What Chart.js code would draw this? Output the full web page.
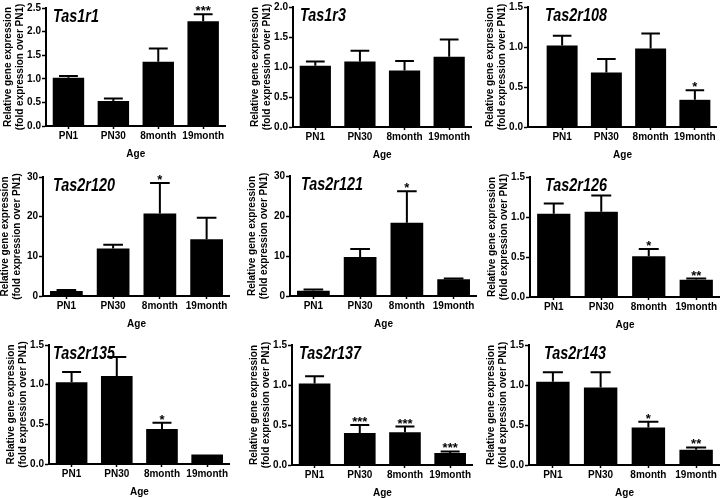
<!DOCTYPE html>
<html>
<head>
<meta charset="utf-8">
<script src="https://cdn.jsdelivr.net/npm/chart.js@4"></script>
<style>
body{margin:0;background:#fff;width:722px;height:498px;position:relative;overflow:hidden}
.p{position:absolute}
</style>
</head>
<body>
<script>
const ages=['PN1','PN30','8month','19month']
const genes=['Tas1r1','Tas1r3','Tas2r108','Tas2r120','Tas2r121','Tas2r126','Tas2r135','Tas2r137','Tas2r143']

// mean fold expression per gene, in the order of ages
const means=[
[1.02,0.53,1.36,2.22],
[1.02,1.09,0.94,1.17],
[1.02,0.68,0.98,0.34],
[1.26,12.0,20.8,14.3],
[1.3,9.75,18.3,4.2],
[1.04,1.065,0.51,0.215],
[1.03,1.11,0.44,0.12],
[1.02,0.40,0.41,0.15],
[1.04,0.97,0.47,0.19]
]
// upper error (SEM)
const errs=[
[0.04,0.05,0.28,0.15],
[0.07,0.18,0.16,0.29],
[0.12,0.17,0.19,0.12],
[0.25,0.9,7.7,5.4],
[0.3,2.0,7.9,0.2],
[0.13,0.205,0.09,0.015],
[0.13,0.24,0.08,0],
[0.09,0.10,0.07,0.02],
[0.12,0.19,0.07,0.03]
]
const stars=[
['','','','***'],
['','','',''],
['','','','*'],
['','','*',''],
['','','*',''],
['','','*','**'],
['','','*',''],
['','***','***','***'],
['','','*','**']
]
const yMax=[2.5,2,1.5,30,30,1.5,1.5,1.5,1.5]
const yStep=[0.5,0.5,0.5,10,10,0.5,0.5,0.5,0.5]

// plot area of each panel on the page: left, top, right, bottom, title dx, gap before first bar slot
const boxes=[
[46,8,226,126,7,0],[293,7,472,127,7,0],[528,7,717,127,17,12],
[43,177,230,296,10,0],[290,176,477,296,11,0],[530,177,720,297,15,0],
[49,345,230,464,4,0],[292,345,473,465,7,0],[529,345,720,465,15,0]
]

Chart.defaults.font.family='"Liberation Sans", Arial, sans-serif'
Chart.defaults.color='#000'

const errPlugin={
id:'err',
afterLayout(chart,args,opts){
// leave a small gap between the y axis and the first bar slot
const s=chart.scales.x
if(opts.gap){
s._startPixel+=opts.gap
s._length-=opts.gap
}
},
afterDatasetsDraw(chart,args,opts){
const ctx=chart.ctx
const y=chart.scales.y
const meta=chart.getDatasetMeta(0)
ctx.save()
ctx.strokeStyle='#000'
ctx.fillStyle='#000'
ctx.lineWidth=2
meta.data.forEach((bar,i)=>{
const v=opts.means[i],e=opts.errs[i]
const top=y.getPixelForValue(v+e)
if(e>0){
const half=bar.width*0.3
ctx.beginPath()
ctx.moveTo(bar.x,y.getPixelForValue(v))
ctx.lineTo(bar.x,top)
ctx.moveTo(bar.x-half,top)
ctx.lineTo(bar.x+half,top)
ctx.stroke()
}
if(opts.stars[i]){
ctx.font='bold 13px "Liberation Sans", Arial'
ctx.textAlign='center'
ctx.textBaseline='alphabetic'
ctx.fillText(opts.stars[i],bar.x,top+1)
}
})
// gene name, italic, drawn inside the plot
ctx.translate(chart.chartArea.left+opts.dx,chart.chartArea.top+14)
ctx.scale(0.8,1)
ctx.font='italic bold 18px "Liberation Sans", Arial'
ctx.textAlign='left'
ctx.fillText(opts.gene,0,0)
ctx.restore()
}
}

genes.forEach((g,k)=>{
const b=boxes[k]
const div=document.createElement('div')
div.className='p'
div.style.left=(b[0]-46)+'px'
div.style.top=(b[1]-8)+'px'
div.style.width=(b[2]-b[0]+46)+'px'
div.style.height=(b[3]-b[1]+8+34)+'px'
const cv=document.createElement('canvas')
div.appendChild(cv)
document.body.appendChild(div)
const dec=yMax[k]>5?0:1

new Chart(cv,{
type:'bar',
data:{
labels:ages,
datasets:[{
data:means[k],
backgroundColor:'#000',
barPercentage:0.7,
categoryPercentage:1
}]
},
options:{
responsive:true,
maintainAspectRatio:false,
animation:false,
layout:{padding:{top:8,left:0,right:0,bottom:0}},
plugins:{
legend:{display:false},
tooltip:{enabled:false},
err:{means:means[k],errs:errs[k],stars:stars[k],gene:g,dx:b[4],gap:b[5]}
},
scales:{
x:{
afterFit:s=>{s.height=34},
grid:{offset:false,drawOnChartArea:false,tickLength:3,tickColor:'#000',tickWidth:1.5},
border:{color:'#000',width:2},
ticks:{font:{size:10,weight:'bold',lineHeight:1},padding:2,maxRotation:0,autoSkip:false},
title:{display:true,text:'Age',font:{size:10,weight:'bold'},padding:{top:3,bottom:0}}
},
y:{
min:0,max:yMax[k],
afterFit:s=>{s.width=46},
grid:{drawOnChartArea:false,tickLength:4,tickColor:'#000',tickWidth:1.5},
border:{color:'#000',width:2},
ticks:{stepSize:yStep[k],font:{size:10,weight:'bold'},padding:1,callback:v=>v.toFixed(dec)},
title:{display:true,text:['Relative gene expression','(fold expression over PN1)'],font:{size:10,weight:'bold',lineHeight:1.2},padding:{top:2,bottom:0}}
}
}
},
plugins:[errPlugin]
})
})
</script>
</body>
</html>
